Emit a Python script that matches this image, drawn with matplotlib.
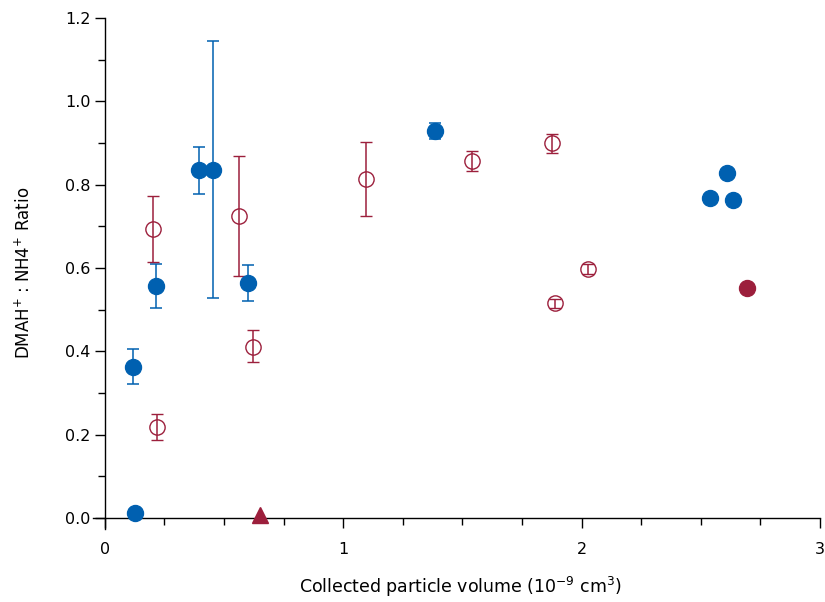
import matplotlib
matplotlib.use('Agg')
import matplotlib.pyplot as plt
from matplotlib.ticker import MultipleLocator
import numpy as np

plt.rcParams['font.family'] = ['DejaVu Sans']
plt.rcParams['mathtext.default'] = 'regular'

blue = '#0060B0'
red = '#9C1F3C'

# blue filled circles (with error bars where present)
blue_x = [0.126, 0.117, 0.216, 0.393, 0.453, 0.600, 1.383, 2.610, 2.539, 2.635]
blue_y = [0.012, 0.362, 0.557, 0.835, 0.835, 0.564, 0.929, 0.828, 0.768, 0.763]
blue_lo = [0.012, 0.322, 0.504, 0.778, 0.528, 0.521, 0.910, 0.828, 0.768, 0.763]
blue_hi = [0.012, 0.405, 0.610, 0.890, 1.145, 0.607, 0.948, 0.828, 0.768, 0.763]

# red open circles with error bars
red_x = [0.200, 0.217, 0.562, 0.620, 1.094, 1.540, 1.876, 2.027, 1.890]
red_y = [0.694, 0.218, 0.725, 0.411, 0.813, 0.857, 0.900, 0.597, 0.516]
red_lo = [0.614, 0.188, 0.581, 0.374, 0.725, 0.833, 0.876, 0.585, 0.505]
red_hi = [0.773, 0.250, 0.869, 0.451, 0.902, 0.881, 0.921, 0.610, 0.527]

# red filled circle and triangle
redfill_x = [2.693]
redfill_y = [0.552]
tri_x = [0.650]
tri_y = [0.007]

fig = plt.figure(figsize=(8.25, 6.02), dpi=100)
ax = fig.add_axes([0.1127, 0.122, 0.9939 - 0.1127, 0.970 - 0.122])

by = np.array(blue_y)
ax.errorbar(blue_x, blue_y, yerr=[by - np.array(blue_lo), np.array(blue_hi) - by],
            fmt='o', color=blue, ms=11.5, mec=blue, ecolor=blue, elinewidth=1.1,
            capsize=4.5, capthick=1.1, zorder=3)

ry = np.array(red_y)
ax.errorbar(red_x, red_y, yerr=[ry - np.array(red_lo), np.array(red_hi) - ry],
            fmt='o', mfc='none', mec=red, mew=1.0, ms=11, ecolor=red, elinewidth=1.1,
            capsize=4.5, capthick=1.1, zorder=3)

ax.plot(redfill_x, redfill_y, 'o', color=red, ms=11.5, zorder=3)
ax.plot(tri_x, tri_y, '^', color=red, ms=12, zorder=3, clip_on=False)

ax.set_xlim(-0.05, 3.0)
ax.set_ylim(-0.025, 1.2)
ax.spines['left'].set_position(('data', 0))
ax.spines['bottom'].set_position(('data', 0))
ax.spines['top'].set_visible(False)
ax.spines['right'].set_visible(False)
for s in ('left', 'bottom'):
    ax.spines[s].set_linewidth(1.0)

ax.xaxis.set_major_locator(MultipleLocator(1))
ax.xaxis.set_minor_locator(MultipleLocator(0.25))
ax.yaxis.set_major_locator(MultipleLocator(0.2))
ax.yaxis.set_minor_locator(MultipleLocator(0.1))
ax.tick_params(which='major', direction='out', length=7, width=1.0, labelsize=11.5)
ax.tick_params(which='minor', direction='out', length=5, width=1.0)
ax.set_xticks([0, 1, 2, 3])
ax.set_xticklabels(['0', '1', '2', '3'])
ax.set_yticks(np.arange(0, 1.21, 0.2))
ax.set_yticklabels(['%.1f' % v for v in np.arange(0, 1.21, 0.2)])
ax.tick_params(axis='x', pad=10)

ax.set_xlabel('Collected particle volume (10$^{-9}$ cm$^{3}$)', fontsize=12.5)
ax.xaxis.set_label_coords(0.505, -0.09)
ax.set_ylabel('DMAH$^{+}$ : NH4$^{+}$ Ratio', fontsize=12)
ax.yaxis.set_label_coords(-0.082, 0.5)

fig.savefig('out.png', dpi=100)
